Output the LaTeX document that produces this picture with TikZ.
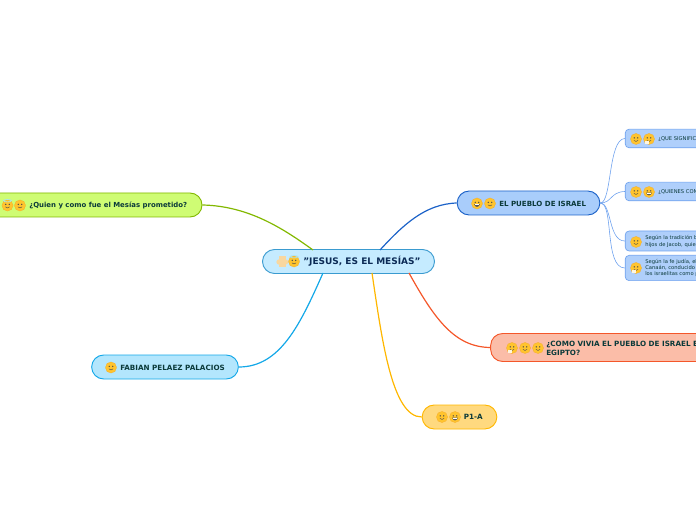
\documentclass[tikz,border=0pt]{standalone}
\usepackage{fontspec}
\setmainfont{DejaVu Sans}
\usetikzlibrary{calc}
\definecolor{ink}{HTML}{0B3A3A}
\definecolor{rootink}{HTML}{0B2A55}
\definecolor{rootfill}{HTML}{C5EBFF}\definecolor{rootline}{HTML}{3A9BD0}
\definecolor{isrfill}{HTML}{A9CDFB}\definecolor{isrline}{HTML}{1C62C8}
\definecolor{quifill}{HTML}{CFFC74}\definecolor{quiline}{HTML}{82B800}
\definecolor{fabfill}{HTML}{B3E6FD}\definecolor{fabline}{HTML}{14A8E8}
\definecolor{pfill}{HTML}{FFD97F}\definecolor{pline}{HTML}{FFB700}
\definecolor{comfill}{HTML}{FBBDA8}\definecolor{comline}{HTML}{F4572A}
\definecolor{subfill}{HTML}{AFCFFB}\definecolor{subline}{HTML}{6FA2EE}
\definecolor{facefill}{HTML}{FFC42E}\definecolor{faceline}{HTML}{F5A623}
\definecolor{halo}{HTML}{A8E4F0}\definecolor{handc}{HTML}{F8D7A0}
\tikzset{
 topic/.style={draw=#1,line width=0.7pt,rounded corners=9pt,inner sep=0pt},
 subtopic/.style={draw=subline,fill=subfill,line width=0.5pt,rounded corners=3pt,inner sep=0pt,minimum width=80pt},
 lab/.style={anchor=west,font=\bfseries\fontsize{5.2}{6.2}\selectfont,text=ink,inner sep=0pt,align=left},
 capslab/.style={anchor=west,font=\bfseries\fontsize{5.4}{6.6}\selectfont,text=ink,inner sep=0pt,align=left},
 sublab/.style={anchor=west,font=\fontsize{3.9}{4.7}\selectfont,text=ink,inner sep=0pt,align=left},
 conn/.style={line width=0.9pt},
 sublink/.style={line width=0.45pt,draw=subline},
 face/.style={circle,fill=facefill,draw=faceline,line width=0.15pt,minimum size=8.4pt,inner sep=0pt},
}
\newcommand{\fbase}[2]{\node[face] (#1) at (#2) {};
 \fill[black!70] ($(#1)+(-1.3pt,0.9pt)$) circle (0.55pt) ($(#1)+(1.3pt,0.9pt)$) circle (0.55pt);}
\newcommand{\fc}[2]{\fbase{#1}{#2}
 \draw[black!70,line width=0.3pt] ($(#1)+(-1.6pt,-1pt)$) .. controls ($(#1)+(-0.7pt,-2.1pt)$) and ($(#1)+(0.7pt,-2.1pt)$) .. ($(#1)+(1.6pt,-1pt)$);}
\newcommand{\fgr}[2]{\fbase{#1}{#2}
 \fill[black!65] ($(#1)+(-2.2pt,-0.5pt)$) .. controls ($(#1)+(-1.4pt,-3.2pt)$) and ($(#1)+(1.4pt,-3.2pt)$) .. ($(#1)+(2.2pt,-0.5pt)$) -- cycle;
 \fill[white] ($(#1)+(-1.8pt,-0.5pt)$) rectangle ($(#1)+(1.8pt,-1.1pt)$);}
\newcommand{\fhand}[2]{\fc{#1}{#2}
 \fill[white!85!facefill] ($(#1)+(-3pt,-3.6pt)$) rectangle ($(#1)+(0pt,-1.2pt)$);}
\newcommand{\fhalo}[2]{\fc{#1}{#2}
 \draw[halo,line width=0.5pt] ($(#1)+(0pt,3.6pt)$) ellipse (3pt and 0.9pt);}
\begin{document}
\begin{tikzpicture}[x=0.75pt,y=-0.75pt]
\useasboundingbox (0,0) rectangle (696,520);
\clip (0,0) rectangle (696,520);
% nodes (boxes)
\node[topic=rootline,fill=rootfill,minimum width=129pt,minimum height=18pt] (root) at (348.5,261.5) {};
\node[topic=isrline,fill=isrfill,minimum width=107pt,minimum height=18pt] (israel) at (528.5,203) {};
\node[topic=quiline,fill=quifill,minimum width=165pt,minimum height=18pt] (quien) at (92,205) {};
\node[topic=fabline,fill=fabfill,minimum width=110pt,minimum height=18pt] (fabian) at (165,367) {};
\node[topic=pline,fill=pfill,minimum width=56pt,minimum height=18pt] (p1) at (459.5,417) {};
\node[topic=comline,fill=comfill,minimum width=200pt,minimum height=21pt] (como) at (624,347.5) {};
\node[subtopic,minimum height=14pt] (s1) at (678.5,138.5) {};
\node[subtopic,minimum height=14pt] (s2) at (678.5,191.5) {};
\node[subtopic,minimum height=15pt] (s3) at (678.5,241) {};
\node[subtopic,minimum height=19pt] (s4) at (678.5,268) {};
% free ends on the central topic
\coordinate (rIsr) at (380,250);
\coordinate (rQui) at (313,250);
\coordinate (rFab) at (323,273);
\coordinate (rP) at (372,273);
\coordinate (rCom) at (409,273);
% connectors
\draw[conn,isrline] (rIsr) .. controls (403,225) and (425,204) .. (israel.west);
\draw[conn,quiline] (rQui) .. controls (285,230) and (250,206) .. (quien.east);
\draw[conn,fabline] (rFab) .. controls (300,325) and (280,367) .. (fabian.east);
\draw[conn,pline] (rP) .. controls (382,340) and (392,417) .. (p1.west);
\draw[conn,comline] (rCom) .. controls (435,320) and (455,347) .. (como.west);
\draw[sublink] (israel.east) .. controls (612,203) and (608,139) .. (s1.west);
\draw[sublink] (israel.east) .. controls (612,203) and (610,192) .. (s2.west);
\draw[sublink] (israel.east) .. controls (612,203) and (608,241) .. (s3.west);
\draw[sublink] (israel.east) .. controls (614,203) and (604,268) .. (s4.west);
% faces
\fill[handc] (279,256) rectangle (286,267);
\fill[handc] (277,258) circle (0pt);
\node[face,fill=handc,draw=none,minimum size=4pt] (ha) at (279,262) {};
\node[face,fill=handc,draw=none,minimum size=4pt] (hb) at (285.5,262) {};
\fhalo{fb}{294,261.5}
\fgr{fc}{477,203.5}
\fc{fd}{490,203.5}
\fhalo{fe}{7.5,205.5}
\fc{ff}{20,205.5}
\fc{fg}{111,367.5}
\fc{fh}{442,417}
\fgr{fi}{455,417}
\fhand{fj}{512,348}
\fc{fk}{525,348}
\fc{fl}{538,348}
\fc{fm}{636,139}
\fhand{fn}{649,139}
\fc{fo}{636,192}
\fgr{fp}{649,192}
\fc{fq}{636,242}
\fhand{fr}{636,268}
% labels
\node[lab,text=rootink,font=\bfseries\fontsize{6.75}{8}\selectfont] (troot) at (303,261.5) {"JESUS, ES EL MESÍAS"};
\node[capslab,font=\bfseries\fontsize{5.3}{6.4}\selectfont] (tisrael) at (499,203.5) {EL PUEBLO DE ISRAEL};
\node[lab] (tquien) at (29,205.5) {¿Quien y como fue el Mesías prometido?};
\node[capslab] (tfabian) at (120,367.5) {FABIAN PELAEZ PALACIOS};
\node[capslab] (tp1) at (463.5,417) {P1-A};
\node[capslab] (tcomo) at (546,348) {¿COMO VIVIA EL PUEBLO DE ISRAEL EN\\EGIPTO?};
\node[sublab] (t1) at (658,139) {¿QUE SIGNIFICA};
\node[sublab] (t2) at (658,192) {¿QUIENES CONFORMAN};
\node[sublab] (t3) at (645,241.5) {Según la tradición bíblica\\hijos de Jacob, quienes};
\node[sublab] (t4) at (645,268) {Según la fe judía, el pueblo\\Canaán, conducido por\\los israelitas como pueblo};
\end{tikzpicture}
\end{document}
